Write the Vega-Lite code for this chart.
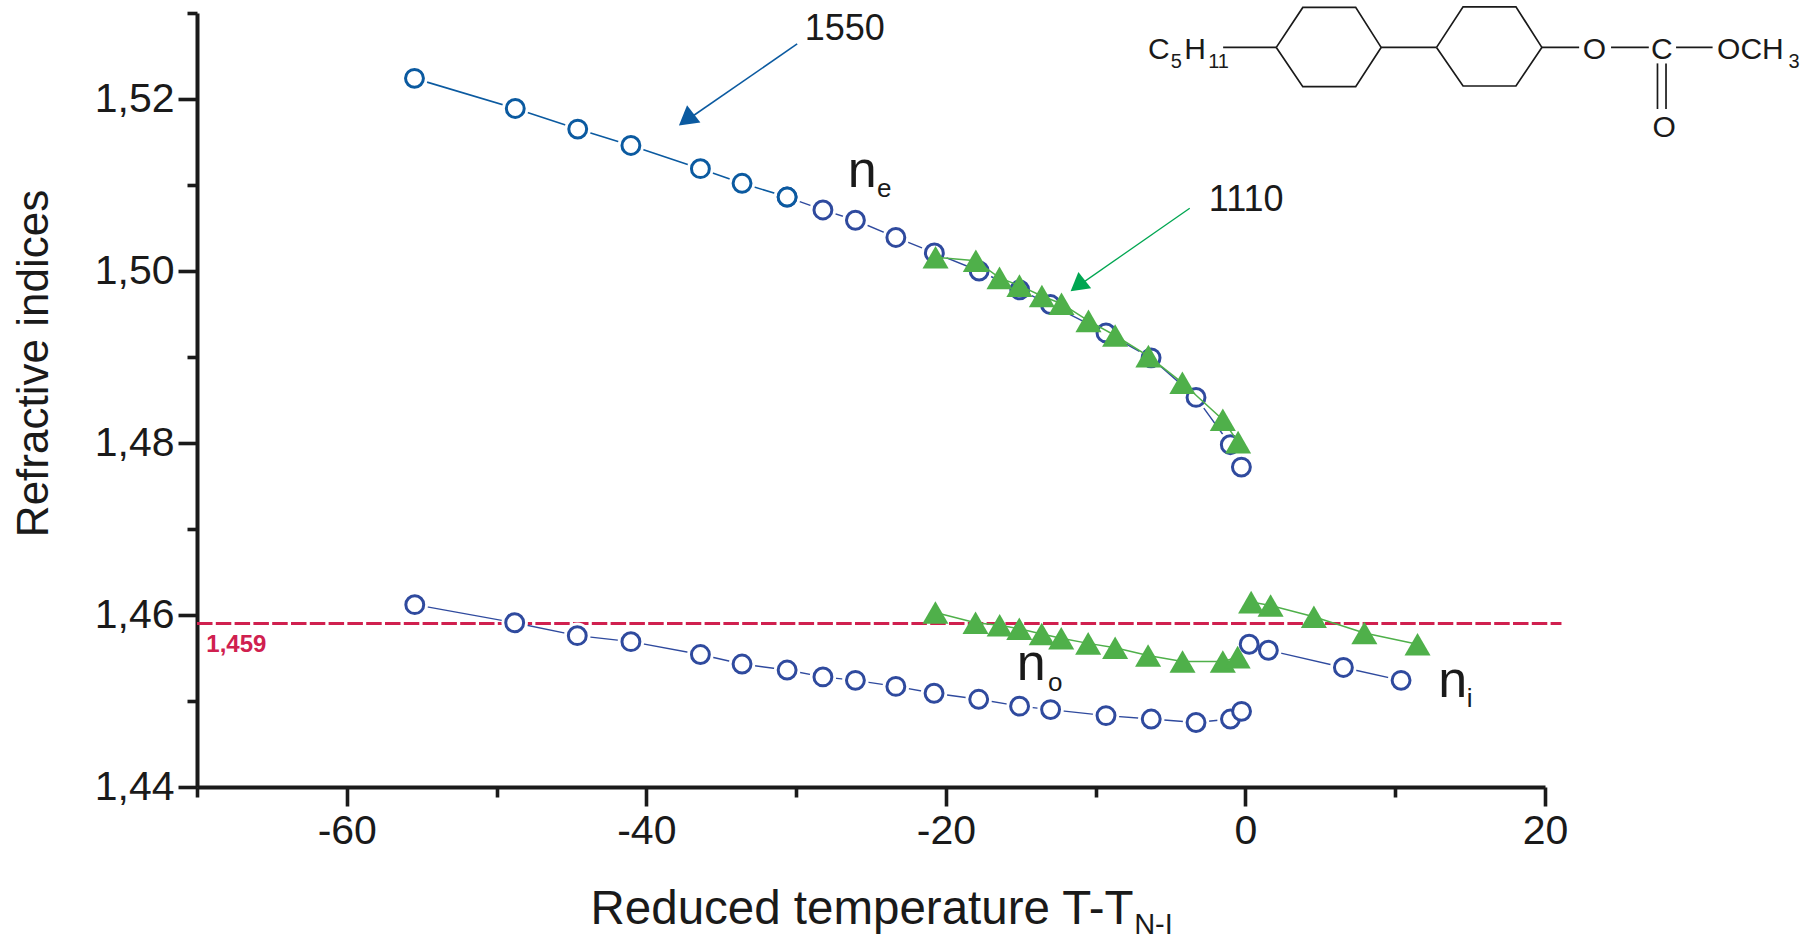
{"$schema":"https://vega.github.io/schema/vega-lite/v6.json","width":1348,"height":774,"autosize":{"type":"none"},"padding":{"left":197,"top":13,"right":269,"bottom":148},"background":"white","view":{"stroke":null},
"datasets":{
"red":[{"x":-70,"y":1.459},{"x":21.1,"y":1.459}],
"blueEarly":[{"s":"ne","x":-55.48,"y":1.5224},{"s":"ne","x":-48.75,"y":1.5189},{"s":"ne","x":-44.58,"y":1.5165},{"s":"ne","x":-41.03,"y":1.5146},{"s":"ne","x":-36.39,"y":1.5119},{"s":"ne","x":-33.61,"y":1.5102},{"s":"ne","x":-30.6,"y":1.5086}],
"blue":[{"s":"ne","x":-30.6,"y":1.5086},{"s":"ne","x":-28.21,"y":1.5071},{"s":"ne","x":-26.04,"y":1.5059},{"s":"ne","x":-23.34,"y":1.5039},{"s":"ne","x":-20.77,"y":1.5021},{"s":"ne","x":-17.78,"y":1.5},{"s":"ne","x":-15.07,"y":1.4978},{"s":"ne","x":-13.02,"y":1.4961},{"s":"ne","x":-9.31,"y":1.4928},{"s":"ne","x":-6.3,"y":1.4899},{"s":"ne","x":-3.3,"y":1.4853},{"s":"ne","x":-1.01,"y":1.4798},{"s":"ne","x":-0.27,"y":1.4772},
{"s":"no","x":-55.46,"y":1.4612},{"s":"no","x":-48.79,"y":1.4591},{"s":"no","x":-44.61,"y":1.4576},{"s":"no","x":-41.03,"y":1.4569},{"s":"no","x":-36.39,"y":1.4554},{"s":"no","x":-33.61,"y":1.4543},{"s":"no","x":-30.6,"y":1.4536},{"s":"no","x":-28.21,"y":1.4528},{"s":"no","x":-26.04,"y":1.4524},{"s":"no","x":-23.34,"y":1.4517},{"s":"no","x":-20.79,"y":1.4509},{"s":"no","x":-17.81,"y":1.4502},{"s":"no","x":-15.08,"y":1.4494},{"s":"no","x":-13.01,"y":1.449},{"s":"no","x":-9.31,"y":1.4483},{"s":"no","x":-6.29,"y":1.4479},{"s":"no","x":-3.3,"y":1.4475},{"s":"no","x":-1.0,"y":1.4479},{"s":"no","x":-0.26,"y":1.4488},
{"s":"ni","x":0.25,"y":1.4566},{"s":"ni","x":1.53,"y":1.4559},{"s":"ni","x":6.54,"y":1.4539},{"s":"ni","x":10.39,"y":1.4524}],
"green":[{"s":"ne","x":-20.69,"y":1.5016},{"s":"ne","x":-18.0,"y":1.5012},{"s":"ne","x":-16.42,"y":1.4992},{"s":"ne","x":-15.09,"y":1.4983},{"s":"ne","x":-13.59,"y":1.4971},{"s":"ne","x":-12.28,"y":1.4962},{"s":"ne","x":-10.48,"y":1.4942},{"s":"ne","x":-8.7,"y":1.4925},{"s":"ne","x":-6.48,"y":1.4901},{"s":"ne","x":-4.21,"y":1.487},{"s":"ne","x":-1.51,"y":1.4827},{"s":"ne","x":-0.49,"y":1.4801},
{"s":"no","x":-20.7,"y":1.4603},{"s":"no","x":-18.02,"y":1.4591},{"s":"no","x":-16.41,"y":1.4588},{"s":"no","x":-15.1,"y":1.4584},{"s":"no","x":-13.6,"y":1.4578},{"s":"no","x":-12.3,"y":1.4573},{"s":"no","x":-10.5,"y":1.4567},{"s":"no","x":-8.7,"y":1.4562},{"s":"no","x":-6.5,"y":1.4553},{"s":"no","x":-4.2,"y":1.4546},{"s":"no","x":-1.51,"y":1.4546},{"s":"no","x":-0.52,"y":1.4551},
{"s":"ni","x":0.38,"y":1.4615},{"s":"ni","x":1.68,"y":1.4611},{"s":"ni","x":4.57,"y":1.4598},{"s":"ni","x":7.94,"y":1.4579},{"s":"ni","x":11.49,"y":1.4566}],
"mol":[{"s":"a","o":0,"x":2.06,"y":1.526},{"s":"a","o":1,"x":3.83,"y":1.53065},{"s":"a","o":2,"x":7.36,"y":1.53065},{"s":"a","o":3,"x":9.06,"y":1.526},{"s":"a","o":4,"x":7.36,"y":1.52143},{"s":"a","o":5,"x":3.83,"y":1.52143},{"s":"a","o":6,"x":2.06,"y":1.526},
{"s":"b","o":0,"x":12.76,"y":1.526},{"s":"b","o":1,"x":14.53,"y":1.53072},{"s":"b","o":2,"x":18.06,"y":1.53072},{"s":"b","o":3,"x":19.79,"y":1.526},{"s":"b","o":4,"x":18.06,"y":1.52151},{"s":"b","o":5,"x":14.53,"y":1.52151},{"s":"b","o":6,"x":12.76,"y":1.526},
{"s":"c","o":0,"x":-1.49,"y":1.526},{"s":"c","o":1,"x":2.06,"y":1.526},{"s":"d","o":0,"x":9.06,"y":1.526},{"s":"d","o":1,"x":12.76,"y":1.526},{"s":"e","o":0,"x":19.79,"y":1.526},{"s":"e","o":1,"x":22.28,"y":1.526},{"s":"f","o":0,"x":24.41,"y":1.526},{"s":"f","o":1,"x":26.93,"y":1.526},{"s":"g","o":0,"x":28.75,"y":1.526},{"s":"g","o":1,"x":31.19,"y":1.526},{"s":"h","o":0,"x":27.51,"y":1.52414},{"s":"h","o":1,"x":27.51,"y":1.51884},{"s":"i","o":0,"x":28.08,"y":1.52414},{"s":"i","o":1,"x":28.08,"y":1.51884}],
"molText":[{"t":"C","x":-6.51,"y":1.52465},{"t":"H","x":-4.08,"y":1.52465},{"t":"O","x":22.52,"y":1.52465},{"t":"C","x":27.08,"y":1.52465},{"t":"OCH","x":31.49,"y":1.52465},{"t":"O","x":27.17,"y":1.51554}],
"molSub":[{"t":"5","x":-4.99,"y":1.52356},{"t":"11","x":-2.49,"y":1.52356},{"t":"3","x":36.26,"y":1.52356}],
"nLabels":[{"t":"n","x":-25.59,"y":1.50973},{"t":"n","x":-14.31,"y":1.4524},{"t":"n","x":13.84,"y":1.4505}],
"nSubs":[{"t":"e","x":-24.12,"y":1.50856},{"t":"o","x":-12.7,"y":1.4512},{"t":"i","x":14.97,"y":1.4493}],
"wave":[{"t":"1550","x":-26.75,"y":1.5281},{"t":"1110","x":0.05,"y":1.5083}],
"arrowBlue":[{"x":-29.93,"y":1.5264},{"x":-37.33,"y":1.5175}],
"arrowGreen":[{"x":-3.72,"y":1.5073},{"x":-11.14,"y":1.4983}],
"headBlue":[{"x":-37.33,"y":1.5176}],
"headGreen":[{"x":-11.2,"y":1.4983}],
"red459":[{"t":"1,459","x":-69.38,"y":1.4557}],
"sub":[{"t":"N-I","x":-7.43,"y":1.42288}]
},
"resolve":{"axis":{"x":"independent","y":"independent"}},
"layer":[
{"data":{"name":"red"},"mark":{"type":"line","color":"#d0204f","strokeWidth":3,"strokeDash":[15.5,3.3]},
"encoding":{"x":{"field":"x","type":"quantitative","scale":{"domain":[-70,20],"nice":false,"zero":false},
"axis":{"orient":"bottom","values":[-60,-40,-20,0,20],"labelExpr":"toString(datum.value)","grid":false,"domainWidth":4,"domainColor":"#1a1a1a","tickColor":"#1a1a1a","tickWidth":3.6,"tickSize":19,"labelFont":"Liberation Sans","labelFontSize":41,"labelColor":"#1a1a1a","labelPadding":5,"labelFlush":false,"labelOverlap":false,"title":"Reduced temperature T-T","titleFont":"Liberation Sans","titleFontSize":47.5,"titleFontWeight":"normal","titleColor":"#1a1a1a","titleAlign":"left","titleAnchor":"start","titleBaseline":"alphabetic","titleX":393,"titleY":136}},
"y":{"field":"y","type":"quantitative","scale":{"domain":[1.44,1.53],"nice":false,"zero":false},
"axis":{"orient":"left","values":[1.44,1.46,1.48,1.5,1.52],"labelExpr":"replace(format(datum.value,'.2f'),'.',',')","grid":false,"domainWidth":4,"domainColor":"#1a1a1a","tickColor":"#1a1a1a","tickWidth":3.6,"tickSize":19,"labelFont":"Liberation Sans","labelFontSize":41,"labelColor":"#1a1a1a","labelPadding":4,"labelOverlap":false,"title":"Refractive indices","titleFont":"Liberation Sans","titleFontSize":44,"titleFontWeight":"normal","titleColor":"#1a1a1a","titleAngle":270,"titleAlign":"center","titleAnchor":"middle","titleBaseline":"alphabetic","titleX":-150,"titleY":350}}}},
{"data":{"name":"red"},"mark":{"type":"line","opacity":0},
"encoding":{"x":{"field":"x","type":"quantitative","axis":{"orient":"bottom","values":[-70,-50,-30,-10,10],"labels":false,"domain":false,"grid":false,"tickColor":"#1a1a1a","tickWidth":3.6,"tickSize":10,"title":null}},
"y":{"field":"y","type":"quantitative","axis":{"orient":"left","values":[1.45,1.47,1.49,1.51,1.53],"labels":false,"domain":false,"grid":false,"tickColor":"#1a1a1a","tickWidth":3.6,"tickSize":10,"title":null}}}},
{"data":{"name":"blue"},"mark":{"type":"line","color":"#2f4a9e","strokeWidth":1.4},"encoding":{"x":{"field":"x","type":"quantitative","axis":null},"y":{"field":"y","type":"quantitative","axis":null},"detail":{"field":"s"}}},
{"data":{"name":"blueEarly"},"mark":{"type":"line","color":"#0b5aa0","strokeWidth":1.6},"encoding":{"x":{"field":"x","type":"quantitative","axis":null},"y":{"field":"y","type":"quantitative","axis":null}}},
{"data":{"name":"blue"},"mark":{"type":"point","shape":"circle","filled":true,"fill":"white","stroke":null,"size":700,"opacity":1},"encoding":{"x":{"field":"x","type":"quantitative","axis":null},"y":{"field":"y","type":"quantitative","axis":null}}},
{"data":{"name":"blueEarly"},"mark":{"type":"point","shape":"circle","filled":true,"fill":"white","stroke":null,"size":700,"opacity":1},"encoding":{"x":{"field":"x","type":"quantitative","axis":null},"y":{"field":"y","type":"quantitative","axis":null}}},
{"data":{"name":"blue"},"mark":{"type":"point","shape":"circle","fill":"white","filled":true,"stroke":"#2f4a9e","strokeWidth":3,"size":320,"opacity":1},"encoding":{"x":{"field":"x","type":"quantitative","axis":null},"y":{"field":"y","type":"quantitative","axis":null}}},
{"data":{"name":"blueEarly"},"mark":{"type":"point","shape":"circle","fill":"white","filled":true,"stroke":"#0b5aa0","strokeWidth":3,"size":320,"opacity":1},"encoding":{"x":{"field":"x","type":"quantitative","axis":null},"y":{"field":"y","type":"quantitative","axis":null}}},
{"data":{"name":"green"},"mark":{"type":"line","color":"#4fb04a","strokeWidth":1.5},"encoding":{"x":{"field":"x","type":"quantitative","axis":null},"y":{"field":"y","type":"quantitative","axis":null},"detail":{"field":"s"}}},
{"data":{"name":"green"},"mark":{"type":"point","shape":"triangle-up","filled":true,"fill":"#4fb04a","stroke":null,"size":680,"opacity":1},"encoding":{"x":{"field":"x","type":"quantitative","axis":null},"y":{"field":"y","type":"quantitative","axis":null}}},
{"data":{"name":"arrowBlue"},"mark":{"type":"line","color":"#0b5aa0","strokeWidth":1.6},"encoding":{"x":{"field":"x","type":"quantitative","axis":null},"y":{"field":"y","type":"quantitative","axis":null}}},
{"data":{"name":"arrowGreen"},"mark":{"type":"line","color":"#00a651","strokeWidth":1.3},"encoding":{"x":{"field":"x","type":"quantitative","axis":null},"y":{"field":"y","type":"quantitative","axis":null}}},
{"data":{"name":"headBlue"},"mark":{"type":"point","shape":"triangle-up","filled":true,"fill":"#0b5aa0","stroke":null,"size":470,"angle":232,"opacity":1},"encoding":{"x":{"field":"x","type":"quantitative","axis":null},"y":{"field":"y","type":"quantitative","axis":null}}},
{"data":{"name":"headGreen"},"mark":{"type":"point","shape":"triangle-up","filled":true,"fill":"#00a651","stroke":null,"size":430,"angle":232,"opacity":1},"encoding":{"x":{"field":"x","type":"quantitative","axis":null},"y":{"field":"y","type":"quantitative","axis":null}}},
{"data":{"name":"mol"},"mark":{"type":"line","color":"#1a1a1a","strokeWidth":1.7},"encoding":{"x":{"field":"x","type":"quantitative","axis":null},"y":{"field":"y","type":"quantitative","axis":null},"detail":{"field":"s"},"order":{"field":"o","type":"quantitative"}}},
{"data":{"name":"molText"},"mark":{"type":"text","font":"Liberation Sans","fontSize":30,"align":"left","baseline":"alphabetic","color":"#1a1a1a"},"encoding":{"x":{"field":"x","type":"quantitative","axis":null},"y":{"field":"y","type":"quantitative","axis":null},"text":{"field":"t"}}},
{"data":{"name":"molSub"},"mark":{"type":"text","font":"Liberation Sans","fontSize":20,"align":"left","baseline":"alphabetic","color":"#1a1a1a"},"encoding":{"x":{"field":"x","type":"quantitative","axis":null},"y":{"field":"y","type":"quantitative","axis":null},"text":{"field":"t"}}},
{"data":{"name":"nLabels"},"mark":{"type":"text","font":"Liberation Sans","fontSize":52,"align":"center","baseline":"alphabetic","color":"#1a1a1a"},"encoding":{"x":{"field":"x","type":"quantitative","axis":null},"y":{"field":"y","type":"quantitative","axis":null},"text":{"field":"t"}}},
{"data":{"name":"nSubs"},"mark":{"type":"text","font":"Liberation Sans","fontSize":26,"align":"center","baseline":"alphabetic","color":"#1a1a1a"},"encoding":{"x":{"field":"x","type":"quantitative","axis":null},"y":{"field":"y","type":"quantitative","axis":null},"text":{"field":"t"}}},
{"data":{"name":"wave"},"mark":{"type":"text","font":"Liberation Sans","fontSize":36,"align":"center","baseline":"middle","color":"#1a1a1a"},"encoding":{"x":{"field":"x","type":"quantitative","axis":null},"y":{"field":"y","type":"quantitative","axis":null},"text":{"field":"t"}}},
{"data":{"name":"red459"},"mark":{"type":"text","font":"Liberation Sans","fontSize":24,"fontWeight":"bold","align":"left","baseline":"alphabetic","color":"#d0204f"},"encoding":{"x":{"field":"x","type":"quantitative","axis":null},"y":{"field":"y","type":"quantitative","axis":null},"text":{"field":"t"}}},
{"data":{"name":"sub"},"mark":{"type":"text","font":"Liberation Sans","fontSize":29,"align":"left","baseline":"alphabetic","color":"#1a1a1a"},"encoding":{"x":{"field":"x","type":"quantitative","axis":null},"y":{"field":"y","type":"quantitative","axis":null},"text":{"field":"t"}}}
]}
